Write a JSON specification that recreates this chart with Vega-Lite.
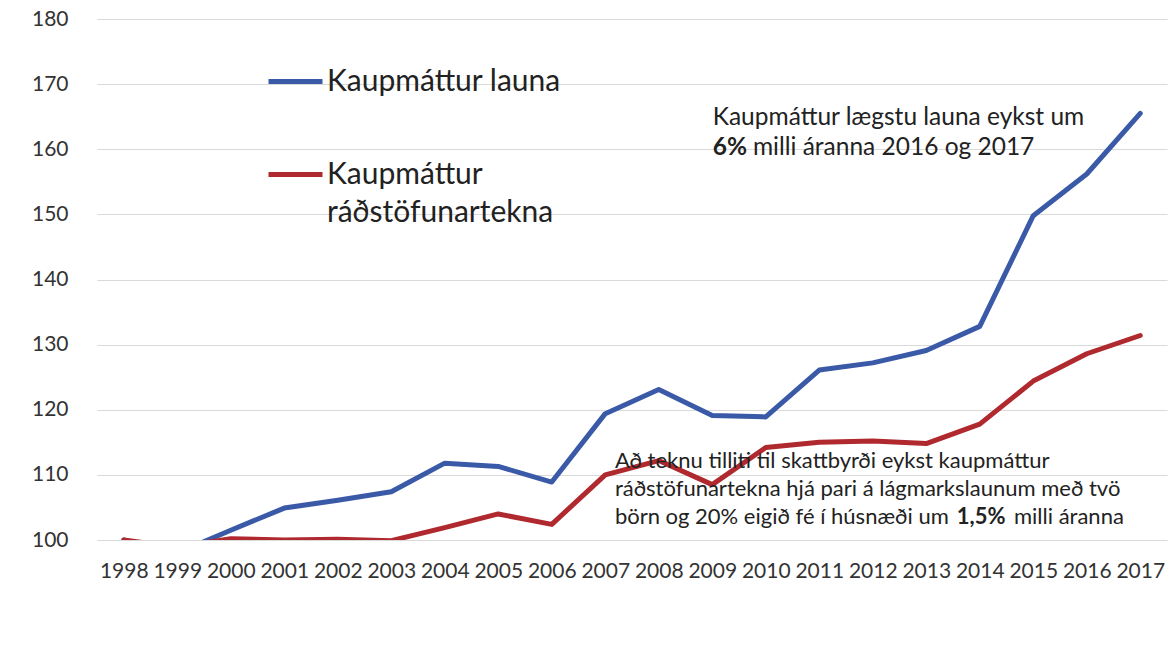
{
  "$schema": "https://vega.github.io/schema/vega-lite/v6.json",
  "width": 1070,
  "height": 521,
  "autosize": {"type": "none"},
  "padding": {"left": 97, "top": 19, "right": 9, "bottom": 105},
  "background": "white",
  "config": {"view": {"stroke": null}, "font": "Lato"},
  "datasets": {
    "series": [
      {"year": 1998, "series": "Kaupmáttur launa", "value": 100.0},
      {"year": 1999, "series": "Kaupmáttur launa", "value": 98.0},
      {"year": 2000, "series": "Kaupmáttur launa", "value": 101.5},
      {"year": 2001, "series": "Kaupmáttur launa", "value": 104.9},
      {"year": 2002, "series": "Kaupmáttur launa", "value": 106.1},
      {"year": 2003, "series": "Kaupmáttur launa", "value": 107.4},
      {"year": 2004, "series": "Kaupmáttur launa", "value": 111.8},
      {"year": 2005, "series": "Kaupmáttur launa", "value": 111.3},
      {"year": 2006, "series": "Kaupmáttur launa", "value": 108.9},
      {"year": 2007, "series": "Kaupmáttur launa", "value": 119.4},
      {"year": 2008, "series": "Kaupmáttur launa", "value": 123.1},
      {"year": 2009, "series": "Kaupmáttur launa", "value": 119.1},
      {"year": 2010, "series": "Kaupmáttur launa", "value": 118.9},
      {"year": 2011, "series": "Kaupmáttur launa", "value": 126.1},
      {"year": 2012, "series": "Kaupmáttur launa", "value": 127.2},
      {"year": 2013, "series": "Kaupmáttur launa", "value": 129.1},
      {"year": 2014, "series": "Kaupmáttur launa", "value": 132.8},
      {"year": 2015, "series": "Kaupmáttur launa", "value": 149.8},
      {"year": 2016, "series": "Kaupmáttur launa", "value": 156.2},
      {"year": 2017, "series": "Kaupmáttur launa", "value": 165.5},
      {"year": 1998, "series": "Kaupmáttur ráðstöfunartekna", "value": 100.0},
      {"year": 1999, "series": "Kaupmáttur ráðstöfunartekna", "value": 98.9},
      {"year": 2000, "series": "Kaupmáttur ráðstöfunartekna", "value": 100.2},
      {"year": 2001, "series": "Kaupmáttur ráðstöfunartekna", "value": 100.0},
      {"year": 2002, "series": "Kaupmáttur ráðstöfunartekna", "value": 100.1},
      {"year": 2003, "series": "Kaupmáttur ráðstöfunartekna", "value": 99.9},
      {"year": 2004, "series": "Kaupmáttur ráðstöfunartekna", "value": 101.9},
      {"year": 2005, "series": "Kaupmáttur ráðstöfunartekna", "value": 104.0},
      {"year": 2006, "series": "Kaupmáttur ráðstöfunartekna", "value": 102.4},
      {"year": 2007, "series": "Kaupmáttur ráðstöfunartekna", "value": 110.0},
      {"year": 2008, "series": "Kaupmáttur ráðstöfunartekna", "value": 112.2},
      {"year": 2009, "series": "Kaupmáttur ráðstöfunartekna", "value": 108.5},
      {"year": 2010, "series": "Kaupmáttur ráðstöfunartekna", "value": 114.2},
      {"year": 2011, "series": "Kaupmáttur ráðstöfunartekna", "value": 115.0},
      {"year": 2012, "series": "Kaupmáttur ráðstöfunartekna", "value": 115.2},
      {"year": 2013, "series": "Kaupmáttur ráðstöfunartekna", "value": 114.8},
      {"year": 2014, "series": "Kaupmáttur ráðstöfunartekna", "value": 117.8},
      {"year": 2015, "series": "Kaupmáttur ráðstöfunartekna", "value": 124.4},
      {"year": 2016, "series": "Kaupmáttur ráðstöfunartekna", "value": 128.6},
      {"year": 2017, "series": "Kaupmáttur ráðstöfunartekna", "value": 131.4}
    ]
  },
  "layer": [
    {
      "data": {"name": "series"},
      "mark": {"type": "line", "strokeWidth": 5, "clip": true, "strokeJoin": "round", "strokeCap": "round"},
      "encoding": {
        "x": {
          "field": "year", "type": "quantitative",
          "scale": {"domain": [1997.5, 2017.5], "nice": false, "zero": false},
          "axis": {
            "values": [1998, 1999, 2000, 2001, 2002, 2003, 2004, 2005, 2006, 2007, 2008, 2009, 2010, 2011, 2012, 2013, 2014, 2015, 2016, 2017],
            "format": "d", "grid": false, "domain": false, "ticks": false,
            "labelFontSize": 21, "labelColor": "#333333", "labelPadding": 20,
            "labelFlush": false, "labelOverlap": false, "title": null
          }
        },
        "y": {
          "field": "value", "type": "quantitative",
          "scale": {"domain": [100, 180], "nice": false, "zero": false},
          "axis": {
            "values": [100, 110, 120, 130, 140, 150, 160, 170, 180],
            "grid": true, "gridColor": "#d9d9d9", "gridWidth": 1,
            "domain": false, "ticks": false,
            "labelFontSize": 21, "labelColor": "#333333", "labelPadding": 29,
            "title": null
          }
        },
        "color": {
          "field": "series", "type": "nominal",
          "scale": {"domain": ["Kaupmáttur launa", "Kaupmáttur ráðstöfunartekna"], "range": ["#3a5aa8", "#b0292e"]},
          "legend": {
            "orient": "none", "legendX": 169, "legendY": 33, "title": null,
            "padding": 0, "symbolType": "stroke", "symbolSize": 2916, "symbolStrokeWidth": 5,
            "labelFontSize": 30, "labelColor": "#222222", "labelOffset": 2, "labelLimit": 0,
            "rowPadding": 48,
            "labelExpr": "datum.label == 'Kaupmáttur ráðstöfunartekna' ? ['Kaupmáttur', 'ráðstöfunartekna'] : datum.label",
            "encode": {"labels": {"update": {"lineHeight": {"value": 38}}}}
          }
        }
      }
    },
    {
      "data": {"values": [
        {"x": 2009.01, "y": 163.7, "text": "Kaupmáttur lægstu launa eykst um"},
        {"x": 2009.76, "y": 159.1, "text": "milli áranna 2016 og 2017"}
      ]},
      "mark": {"type": "text", "align": "left", "baseline": "alphabetic", "fontSize": 24.5, "color": "#222222"},
      "encoding": {"x": {"field": "x", "type": "quantitative"}, "y": {"field": "y", "type": "quantitative"}, "text": {"field": "text"}}
    },
    {
      "data": {"values": [
        {"x": 2009.01, "y": 159.1, "text": "6%"}
      ]},
      "mark": {"type": "text", "align": "left", "baseline": "alphabetic", "fontSize": 24.5, "fontWeight": "bold", "color": "#222222"},
      "encoding": {"x": {"field": "x", "type": "quantitative"}, "y": {"field": "y", "type": "quantitative"}, "text": {"field": "text"}}
    },
    {
      "data": {"values": [
        {"x": 2007.18, "y": 111.06, "text": "Að teknu tilliti til skattbyrði eykst kaupmáttur"},
        {"x": 2007.18, "y": 106.76, "text": "ráðstöfunartekna hjá pari á lágmarkslaunum með tvö"},
        {"x": 2007.18, "y": 102.46, "text": "börn og 20% eigið fé í húsnæði um"},
        {"x": 2014.64, "y": 102.46, "text": "milli áranna"}
      ]},
      "mark": {"type": "text", "align": "left", "baseline": "alphabetic", "fontSize": 22, "color": "#222222"},
      "encoding": {"x": {"field": "x", "type": "quantitative"}, "y": {"field": "y", "type": "quantitative"}, "text": {"field": "text"}}
    },
    {
      "data": {"values": [
        {"x": 2013.57, "y": 102.46, "text": "1,5%"}
      ]},
      "mark": {"type": "text", "align": "left", "baseline": "alphabetic", "fontSize": 22, "fontWeight": "bold", "color": "#222222"},
      "encoding": {"x": {"field": "x", "type": "quantitative"}, "y": {"field": "y", "type": "quantitative"}, "text": {"field": "text"}}
    }
  ]
}
